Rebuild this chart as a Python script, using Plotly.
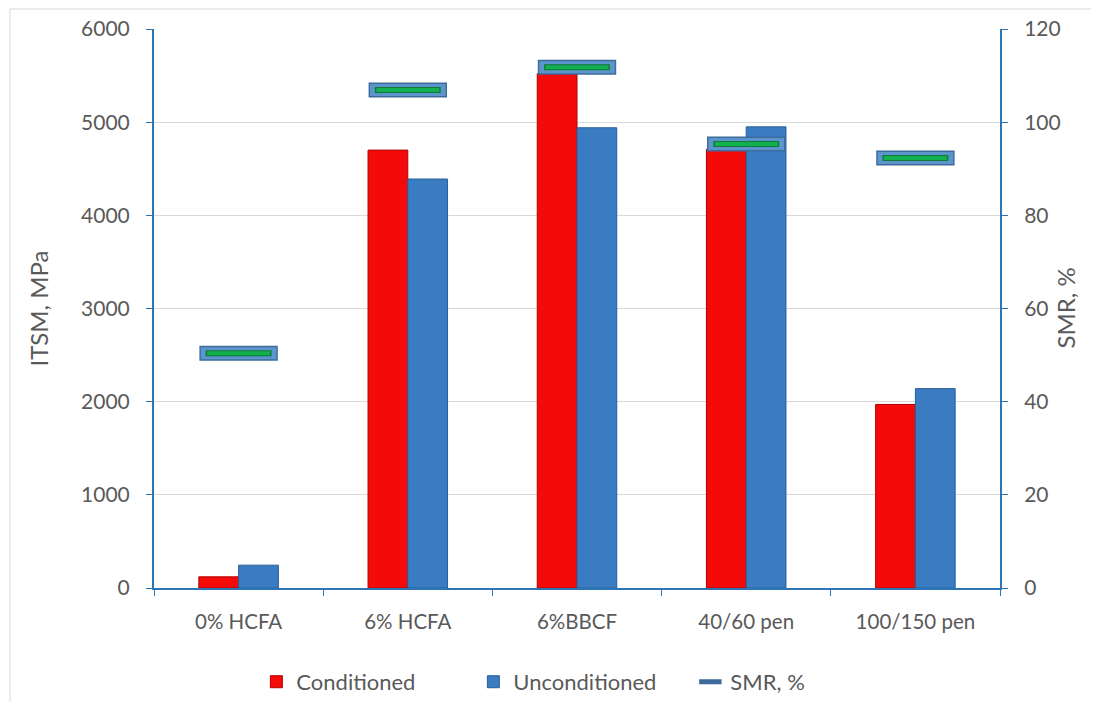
import plotly.graph_objects as go

categories = ["0% HCFA", "6% HCFA", "6%BBCF", "40/60 pen", "100/150 pen"]
conditioned = [120, 4700, 5520, 4710, 1970]
unconditioned = [245, 4390, 4940, 4950, 2140]
smr = [50.4, 106.9, 111.8, 95.3, 92.3]

AX_BLUE = "#2E75B6"
TXT = "#595959"
FONT = "Lato"

fig = go.Figure()
fig.add_trace(go.Bar(
    x=categories, y=conditioned, name="Conditioned",
    marker=dict(color="#F50A0A", line=dict(color="#B00000", width=1)),
))
fig.add_trace(go.Bar(
    x=categories, y=unconditioned, name="Unconditioned",
    marker=dict(color="#3A7CC2", line=dict(color="#2A5E96", width=1)),
))
# SMR markers: layered horizontal line markers
fig.add_trace(go.Scatter(
    x=categories, y=smr, name="SMR, %", yaxis="y2", mode="markers",
    marker=dict(symbol="line-ew", size=56, line=dict(color="#3D6C9C", width=15)),
    showlegend=True,
))
fig.add_trace(go.Scatter(
    x=categories, y=smr, name="SMR, %", yaxis="y2", mode="markers",
    marker=dict(symbol="line-ew", size=54, line=dict(color="#5B95CC", width=12)),
    showlegend=False, hoverinfo="skip",
))
fig.add_trace(go.Scatter(
    x=categories, y=smr, name="SMR, %", yaxis="y2", mode="markers",
    marker=dict(symbol="line-ew", size=47, line=dict(color="#0E7A36", width=6)),
    showlegend=False, hoverinfo="skip",
))
fig.add_trace(go.Scatter(
    x=categories, y=smr, name="SMR, %", yaxis="y2", mode="markers",
    marker=dict(symbol="line-ew", size=45, line=dict(color="#12B04F", width=4)),
    showlegend=False, hoverinfo="skip",
))

fig.update_layout(
    width=1099, height=702,
    margin=dict(l=146, r=107, t=21, b=122),
    paper_bgcolor="white", plot_bgcolor="white",
    barmode="group", bargap=0.53, bargroupgap=0,
    font=dict(family=FONT, color=TXT, size=21),
    showlegend=True,
    legend=dict(
        orientation="h", x=0.121, xanchor="left",
        yref="container", y=0.04, yanchor="middle",
        font=dict(size=22, color=TXT), entrywidth=172, entrywidthmode="pixels",
        traceorder="normal", bgcolor="rgba(0,0,0,0)",
    ),
    xaxis=dict(
        type="category", showline=True, linecolor=AX_BLUE, linewidth=2,
        ticks="outside", tickson="boundaries", ticklen=6, tickcolor=AX_BLUE,
        tickfont=dict(size=20.5, color=TXT), showgrid=False, ticklabelstandoff=14,
        automargin=False,
    ),
    yaxis=dict(
        range=[0, 6000], dtick=1000, showline=True, linecolor=AX_BLUE, linewidth=2,
        ticks="outside", ticklen=6, tickcolor=AX_BLUE,
        gridcolor="#D9D9D9", gridwidth=1, zeroline=False,
        tickfont=dict(size=21, color=TXT), ticklabelstandoff=12, automargin=False,
    ),
    yaxis2=dict(
        range=[0, 120], dtick=20, overlaying="y", side="right",
        showline=True, linecolor=AX_BLUE, linewidth=2,
        ticks="outside", ticklen=6, tickcolor=AX_BLUE,
        showgrid=False, zeroline=False,
        tickfont=dict(size=21, color=TXT), ticklabelstandoff=12, automargin=False,
    ),
    annotations=[
        dict(text="ITSM, MPa", xref="paper", yref="paper",
             x=(38 - 154) / 846, y=0.5, textangle=-90, showarrow=False,
             font=dict(size=24, color=TXT), xanchor="center", yanchor="middle"),
        dict(text="SMR, %", xref="paper", yref="paper",
             x=(1065 - 154) / 846, y=0.5, textangle=-90, showarrow=False,
             font=dict(size=24, color=TXT), xanchor="center", yanchor="middle"),
    ],
    shapes=[
        dict(type="rect", xref="paper", yref="paper",
             x0=(10 - 154) / 846, x1=(1120 - 154) / 846,
             y0=(588 - 720) / 559, y1=1 + (29 - 9) / 559,
             line=dict(color="#D9D9D9", width=1), layer="below"),
    ],
)

fig.write_html("out.html")
